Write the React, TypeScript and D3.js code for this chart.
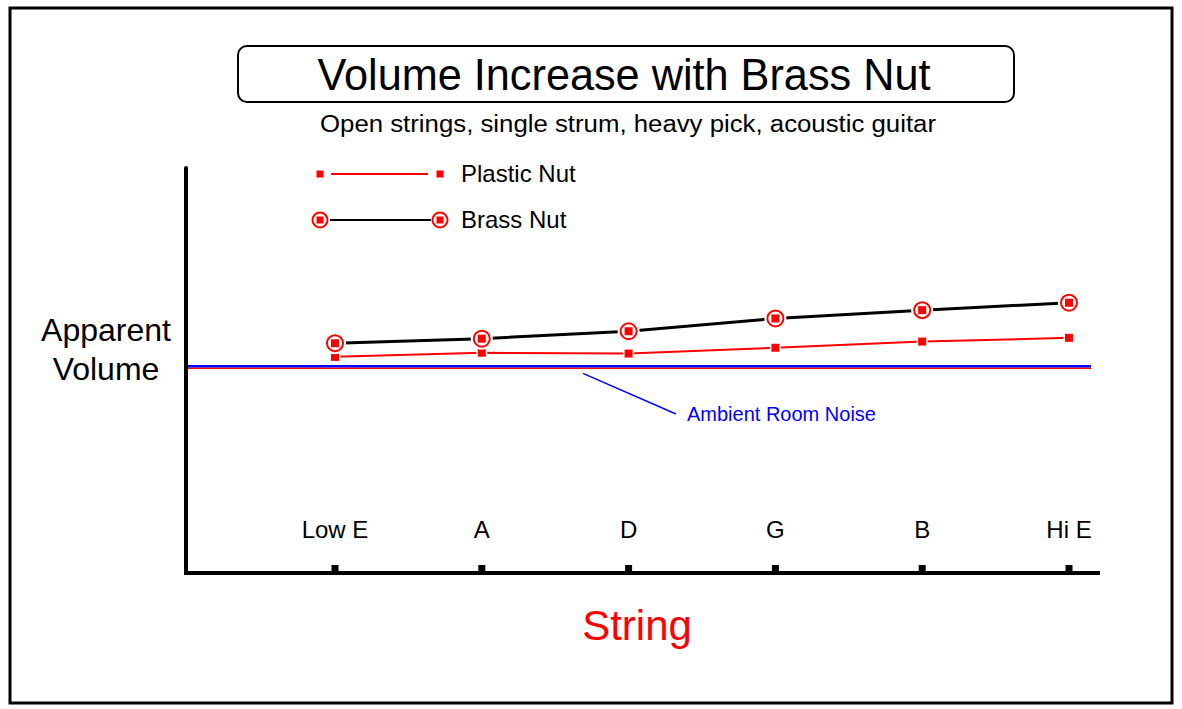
import * as d3 from 'd3';
import React from 'react';

// strings on the x axis
const strings = ['Low E', 'A', 'D', 'G', 'B', 'Hi E'];
// apparent volume, arbitrary units (ambient room noise = 5)
const plasticNut = [5.23, 5.33, 5.31, 5.45, 5.6, 5.69];
const brassNut = [5.56, 5.67, 5.85, 6.16, 6.36, 6.54];
const ambientNoise = 5;
const yMax = 9.8;

const W = 1182;
const H = 709;
const FONT = '"Liberation Sans", Arial, sans-serif';

export default function App() {
    const x = d3.scalePoint<string>().domain(strings).range([335, 1069]);
    const y = d3.scaleLinear().domain([0, yMax]).range([573, 168]);

    const axisLeft = 186;
    const axisRight = 1100;

    const plasticPts = strings.map((s, i) => [x(s) as number, y(plasticNut[i])] as [number, number]);
    const brassPts = strings.map((s, i) => [x(s) as number, y(brassNut[i])] as [number, number]);
    const line = d3.line();

    return (
        <div style={{ position: 'absolute', left: 0, top: 0 }}>
            <svg width={W} height={H} style={{ display: 'block', background: '#fff' }} fontFamily={FONT}>
                {/* outer frame */}
                <rect x={10} y={8} width={1162} height={695} fill="none" stroke="#000" strokeWidth={3} />

                {/* title box */}
                <rect x={238} y={46} width={776} height={56} rx={9} ry={9} fill="#fff" stroke="#000" strokeWidth={2} />
                <text x={624} y={90} textAnchor="middle" fontSize={44} textLength={613} lengthAdjust="spacingAndGlyphs">
                    Volume Increase with Brass Nut
                </text>
                <text x={628} y={132} textAnchor="middle" fontSize={23} textLength={616} lengthAdjust="spacingAndGlyphs">
                    Open strings, single strum, heavy pick, acoustic guitar
                </text>

                {/* legend */}
                <g>
                    <line x1={331} x2={428} y1={174} y2={174} stroke="#f00" strokeWidth={2} />
                    <rect x={316.5} y={170.5} width={7} height={7} fill="#f00" />
                    <rect x={436.5} y={170.5} width={7} height={7} fill="#f00" />
                    <text x={461} y={182} fontSize={24}>Plastic Nut</text>

                    <line x1={330} x2={431} y1={220} y2={220} stroke="#000" strokeWidth={2} />
                    {[320, 440].map((cx) => (
                        <g key={cx}>
                            <circle cx={cx} cy={220} r={7.5} fill="#fff" stroke="#f00" strokeWidth={2} />
                            <rect x={cx - 3.5} y={216.5} width={7} height={7} fill="#f00" />
                        </g>
                    ))}
                    <text x={461} y={228} fontSize={24}>Brass Nut</text>
                </g>

                {/* axis titles */}
                <text x={106} y={341} textAnchor="middle" fontSize={32}>Apparent</text>
                <text x={106} y={380} textAnchor="middle" fontSize={32}>Volume</text>
                <text x={637} y={640} textAnchor="middle" fontSize={42} fill="#f00">String</text>

                {/* ambient room noise */}
                <line x1={axisLeft} x2={1091} y1={y(ambientNoise) + 2} y2={y(ambientNoise) + 2} stroke="#f00" strokeWidth={1.5} />
                <line x1={axisLeft} x2={1091} y1={y(ambientNoise)} y2={y(ambientNoise)} stroke="#00f" strokeWidth={2.5} />
                <line x1={583} y1={y(ambientNoise) + 7} x2={676} y2={414} stroke="#00f" strokeWidth={1.5} />
                <text x={687} y={421} fontSize={20} fill="#00f">Ambient Room Noise</text>

                {/* axes */}
                <line x1={axisLeft} x2={axisLeft} y1={y(yMax)} y2={y(0)} stroke="#000" strokeWidth={4} strokeLinecap="round" />
                <line x1={axisLeft - 2} x2={axisRight} y1={y(0)} y2={y(0)} stroke="#000" strokeWidth={4} />
                {strings.map((s) => (
                    <g key={s}>
                        <rect x={(x(s) as number) - 3.5} y={y(0) - 8} width={7} height={7} fill="#000" />
                        <text x={x(s)} y={538} textAnchor="middle" fontSize={24}>{s}</text>
                    </g>
                ))}

                {/* plastic nut series */}
                <path d={line(plasticPts) || ''} fill="none" stroke="#f00" strokeWidth={2} />
                {plasticPts.map(([px, py], i) => (
                    <rect key={i} x={px - 4} y={py - 4} width={8} height={8} fill="#f00" stroke="#fff" strokeWidth={3} paintOrder="stroke" />
                ))}

                {/* brass nut series */}
                <path d={line(brassPts) || ''} fill="none" stroke="#000" strokeWidth={3} />
                {brassPts.map(([px, py], i) => (
                    <g key={i}>
                        <circle cx={px} cy={py} r={11} fill="#fff" />
                        <circle cx={px} cy={py} r={8} fill="#fff" stroke="#f00" strokeWidth={2} />
                        <rect x={px - 4} y={py - 4} width={8} height={8} fill="#f00" />
                    </g>
                ))}
            </svg>
        </div>
    );
}
